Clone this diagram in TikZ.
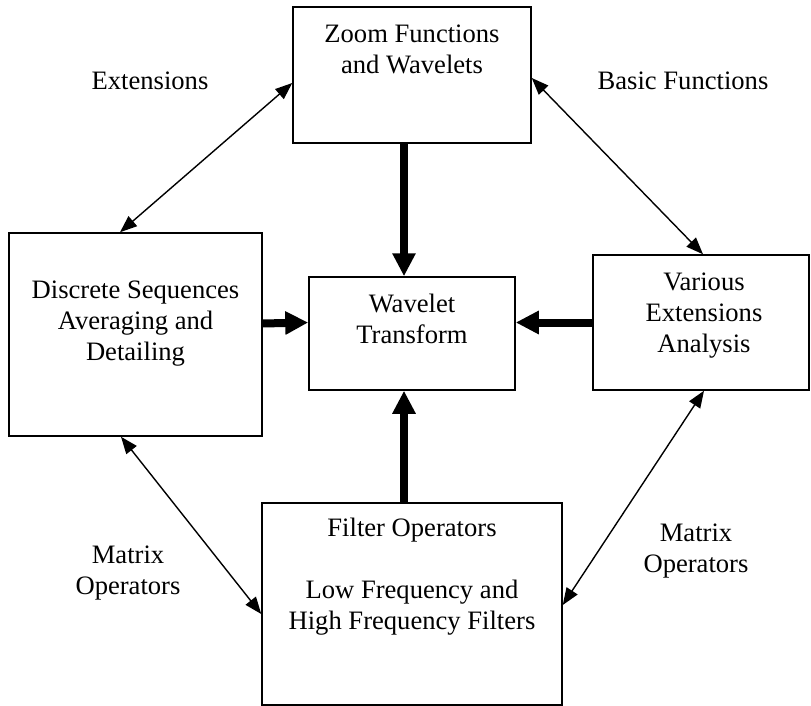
\documentclass[tikz,border=0pt]{standalone}
\usepackage{fontspec}
\setmainfont{Liberation Serif}
\usetikzlibrary{arrows.meta}

\begin{document}
\begin{tikzpicture}[x=1pt,y=-1pt,>={Triangle[length=17pt,width=13pt]},
  every node/.style={font=\fontsize{26.6}{31}\selectfont},
  blk/.style={draw,line width=1.5pt,inner sep=0pt},
  txt/.style={anchor=north,align=center,inner sep=0pt},
  flow/.style={line width=8pt,-{Triangle[length=23pt,width=22pt]}},
  link/.style={line width=1.4pt,<->}]
\useasboundingbox (0,0) rectangle (811,706);

% boxes
\node[blk,minimum width=238pt,minimum height=136pt] (zf) at (412,75) {};
\node[blk,minimum width=253pt,minimum height=203pt] (ds) at (135.5,334.5) {};
\node[blk,minimum width=206pt,minimum height=113pt] (wt) at (412,333.5) {};
\node[blk,minimum width=216pt,minimum height=135pt] (ve) at (701,322.5) {};
\node[blk,minimum width=300pt,minimum height=202pt] (fo) at (412,604) {};

% box texts
\node[txt] (zftext) at ([yshift=-18pt]zf.north) {Zoom Functions\\and Wavelets};
\node[txt] (dstext) at ([yshift=-48pt]ds.north) {Discrete Sequences\\Averaging and\\Detailing};
\node[txt] (wttext) at ([yshift=-18pt]wt.north) {Wavelet\\Transform};
\node[txt] (vetext) at ([xshift=3pt,yshift=-18pt]ve.north) {Various\\Extensions\\Analysis};
\node[txt] (fotext) at ([yshift=-16pt]fo.north) {Filter Operators\\[31pt]Low Frequency and\\High Frequency Filters};

% labels
\node[anchor=base] (ext) at (150,90) {Extensions};
\node[anchor=base] (basic) at (683,90) {Basic Functions};
\node[txt] (mxl) at (128,546) {Matrix\\Operators};
\node[txt] (mxr) at (696,524) {Matrix\\Operators};

% into the transform
\draw[flow] ([xshift=-8pt]zf.south) -- ([xshift=-8pt]wt.north);
\draw[flow] ([yshift=11pt]ds.east) -- ([yshift=11pt]wt.west);
\draw[flow] (ve.west) -- (ve.west -| wt.east);
\draw[flow] ([xshift=-8pt]fo.north) -- ([xshift=-8pt]wt.south);

% outer links
\draw[link] ([yshift=-8pt]zf.west) -- ([xshift=-15.5pt]ds.north);
\draw[link] ([yshift=-3pt]zf.east) -- ([xshift=2pt]ve.north);
\draw[link] ([xshift=-14.5pt]ds.south) -- ([yshift=-10pt]fo.west);
\draw[link] ([xshift=3pt]ve.south) -- ([yshift=-1pt]fo.east);
\end{tikzpicture}
\end{document}
